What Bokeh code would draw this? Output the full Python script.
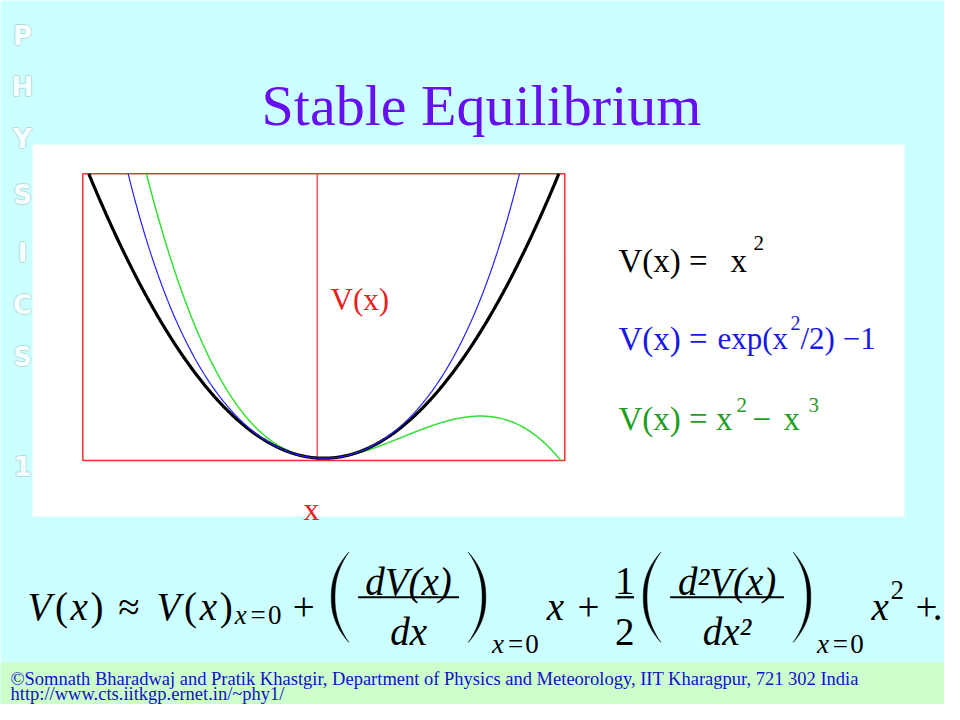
import numpy as np
from bokeh.plotting import figure
from bokeh.models import Range1d
from bokeh.core.properties import value
from bokeh.embed import file_html
from bokeh.resources import INLINE

# ---------------- data ----------------
title_text = "Stable Equilibrium"
side_letters = ["P", "H", "Y", "S", "I", "C", "S", "1"]
side_letter_y = [35, 86, 138, 194, 252, 304, 356, 465]

# plot data limits (axis box) and position of the red vertical axis
x_lim = (-1.0255, 1.0255)
y_lim = (-0.008, 1.0)
axis_x = -0.028

# curve domains where each curve stays inside the box
x_black = np.linspace(-1.0, 1.0, 401)
x_blue = np.linspace(-np.sqrt(np.log(2.0)), np.sqrt(np.log(2.0)), 401)
g_root = [r.real for r in np.roots([-1.0, 1.0, 0.0, -1.0]) if abs(r.imag) < 1e-9][0]
x_green = np.linspace(g_root, 1.008, 401)

v_black = x_black ** 2
v_blue = np.exp(x_blue ** 2) - 1.0
v_green = x_green ** 2 - x_green ** 3

footer_lines = [
    "\u00a9Somnath Bharadwaj and Pratik Khastgir, Department of Physics and Meteorology, IIT Kharagpur, 721 302 India",
    "http://www.cts.iitkgp.ernet.in/~phy1/",
]

# ---------------- figure ----------------
W, H = 944, 704
BG = "#CCFFFF"
p = figure(width=W, height=H, x_range=Range1d(0, W), y_range=Range1d(H, 0),
           x_axis_type=None, y_axis_type=None, tools="", toolbar_location=None,
           output_backend="svg", min_border=0, outline_line_color=None,
           background_fill_color=BG, border_fill_color=BG)
p.xgrid.visible = False
p.ygrid.visible = False

# pixel box of the red frame -> data range mapping
BOX_L, BOX_R, BOX_T, BOX_B = 82.3, 564.3, 173.3, 460.0
sx = (BOX_R - BOX_L) / (x_lim[1] - x_lim[0])
sy = (BOX_B - BOX_T) / (y_lim[1] - y_lim[0])
x0px = BOX_L - x_lim[0] * sx
y0px = BOX_B + y_lim[0] * sy
p.extra_x_ranges = {"plot": Range1d((0 - x0px) / sx, (W - x0px) / sx)}
p.extra_y_ranges = {"plot": Range1d((y0px - H) / sy, (y0px - 0) / sy)}
PR = dict(x_range_name="plot", y_range_name="plot")


def T(x, y, s, size, color="black", font="Liberation Serif", style="normal",
      align="left", baseline="alphabetic", **kw):
    p.text(x=[x], y=[y], text=[s], text_font=value(font), text_font_size=f"{size}px",
           text_font_style=style, text_color=color, text_align=align,
           text_baseline=baseline, **kw)


# side "PHYSICS 1" letters (under the white panel)
for ch, yy in zip(side_letters, side_letter_y):
    for dx, dy in [(-1, 0), (1, 0), (0, -1), (0, 1)]:
        T(22 + dx, yy + dy, ch, 26, color="#B4DCDC", font="DejaVu Sans", style="bold",
          align="center", baseline="middle")
    T(22, yy, ch, 26, color="#F6FFFF", font="DejaVu Sans", style="bold",
      align="center", baseline="middle")

# white panel
p.quad(left=32, right=904, top=144, bottom=516, fill_color="white", line_color=None)
# footer band
p.quad(left=0, right=W, top=662, bottom=H, fill_color="#CCFFCC", line_color=None)

# title
T(481, 105, title_text, 58, color="#6610F2", align="center")

# ---------------- the plot ----------------
p.quad(left=[x_lim[0]], right=[x_lim[1]], bottom=[y_lim[0]], top=[y_lim[1]],
       fill_color=None, line_color="#F03030", line_width=1.5, **PR)
p.segment(x0=[axis_x], x1=[axis_x], y0=[y_lim[0]], y1=[y_lim[1]],
          line_color="#F03030", line_width=1.2, **PR)
p.line(x_green, v_green, line_color="#33E033", line_width=1.5, **PR)
p.line(x_black, v_black, line_color="black", line_width=3.2, **PR)
p.line(x_blue, v_blue, line_color="#2222FF", line_width=1.2, **PR)

T(330, 299, "V(x)", 31, color="#E82020")
T(311, 508, "x", 32, color="#E82020", align="center")

# ---------------- equations legend ----------------
T(618, 260, "V(x) =", 33, color="black")
T(730, 260, "x", 33, color="black")
T(753, 242, "2", 21, color="black")

BL = "#1818E6"
T(618, 338, "V(x) =", 33, color=BL)
T(717, 338, "exp(x", 31, color=BL)
T(790, 322, "2", 20, color=BL)
T(800, 338, "/2) \u22121", 31, color=BL)

GR = "#1E9E1E"
T(618, 418, "V(x) = x", 33, color=GR)
T(736, 404, "2", 21, color=GR)
T(752, 418, "\u2212", 33, color=GR)
T(783, 418, "x", 33, color=GR)
T(808, 404, "3", 21, color=GR)

# ---------------- Taylor expansion (TeX-like layout) ----------------
E = 37.0            # em size in px
X0 = 24.0           # left start
B = 606.0           # main baseline
AX = B - 0.25 * E   # math axis
F = round(1.06 * E)  # glyph font size
FSUB = round(0.72 * E)
MF = "Liberation Serif"
cur = [0.0]


def px(em):
    return X0 + em * E


def glyph(s, w, y=B, size=None, style="normal"):
    T(px(cur[0] + w / 2), y, s, size or F, style=style, font=MF, align="center")
    cur[0] += w


def space(w):
    cur[0] += w


def vx():
    glyph("V", 0.805, style="italic")
    glyph("(", 0.389)
    glyph("x", 0.572, style="italic")
    glyph(")", 0.389)


def sub_x0(y):
    glyph("x", 0.40, y=y, size=FSUB, style="italic")
    glyph("=", 0.545, y=y, size=FSUB)
    glyph("0", 0.35, y=y, size=FSUB)


def paren(left=True, w=0.736):
    xl = px(cur[0] + 0.13)
    xr = px(cur[0] + w - 0.13)
    yt, yb = AX - 1.22 * E, AX + 1.22 * E
    t = np.linspace(-1, 1, 41)
    bulge = 1 - np.abs(t) ** 2.3
    yy = (yt + yb) / 2 + t * (yb - yt) / 2
    ww = xr - xl
    thick = 0.1 * E
    if left:
        outer = xr - ww * bulge
        inner = xr - (ww - thick) * bulge
    else:
        outer = xl + ww * bulge
        inner = xl + (ww - thick) * bulge
    p.patch(np.concatenate([outer, inner[::-1]]), np.concatenate([yy, yy[::-1]]),
            fill_color="black", line_color="black", line_width=0.5)
    cur[0] += w


def frac(num, den, w):
    space(0.12)
    c = px(cur[0] + w / 2)
    T(c, B - 0.677 * E, num, F, style="italic" if num not in ("1",) else "normal",
      font=MF, align="center")
    T(c, B + 0.686 * E, den, F, style="italic" if den not in ("2",) else "normal",
      font=MF, align="center")
    p.segment(x0=[px(cur[0])], x1=[px(cur[0] + w)], y0=[AX], y1=[AX],
              line_color="black", line_width=2.2)
    cur[0] += w
    space(0.12)


vx()
space(0.278); glyph("\u2248", 0.778); space(0.278)
vx()
sub_x0(B + 0.22 * E)
space(0.222); glyph("+", 0.778); space(0.222)
paren(True)
frac("dV(x)", "dx", 2.725)
paren(False)
sub_x0(B + 1.02 * E)
space(0.167); glyph("x", 0.572, style="italic")
space(0.222); glyph("+", 0.778); space(0.222)
frac("1", "2", 0.5)
paren(True)
frac("d\u00b2V(x)", "dx\u00b2", 3.075)
paren(False)
sub_x0(B + 1.02 * E)
space(0.167); glyph("x", 0.572, style="italic")
glyph("2", 0.35, y=B - 0.45 * E, size=FSUB)
space(0.222); glyph("+", 0.778)
T(942, B, ".", F, font=MF, align="right")

# ---------------- footer ----------------
T(10, 678, footer_lines[0], 18.5, color="#1010C8")
T(10, 693, footer_lines[1], 18.5, color="#1010C8")

open("out.html", "w").write(file_html(p, INLINE))
